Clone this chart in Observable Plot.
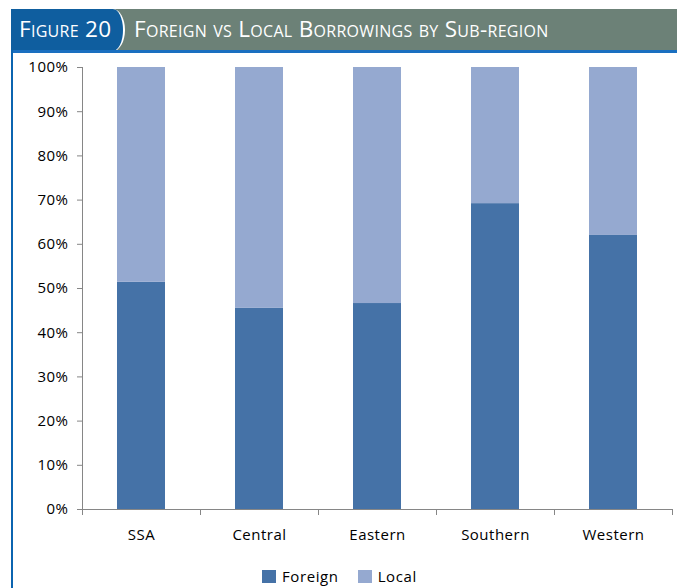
<!DOCTYPE html>
<html>
<head>
<meta charset="utf-8">
<script src="https://cdn.jsdelivr.net/npm/d3@7"></script>
<script src="https://cdn.jsdelivr.net/npm/@observablehq/plot@0.6"></script>
<style>
  html, body { margin: 0; padding: 0; background: #fff; }
  #wrap { position: relative; width: 677px; height: 588px; overflow: hidden; font-family: "Open Sans", sans-serif; }
  #header { position: absolute; left: 11px; top: 9px; width: 666px; height: 42px; background: #6c8177; }
  #hblue { position: absolute; left: 0; top: 0; width: 112px; height: 42px; background: #0f5e9f;
           border-right: 2px solid #fff; border-radius: 0 12px 12px 0 / 0 50% 50% 0; }
  #hline { position: absolute; left: 11px; top: 50px; width: 666px; height: 3px; background: #1a6fc0; }
  #lborder { position: absolute; left: 11px; top: 50px; width: 2px; height: 538px; background: #0b64b0; }
  .htxt { position: absolute; top: 5px; color: #fff; font-variant: small-caps; font-size: 22.5px; letter-spacing: 0.3px; line-height: 30px; white-space: nowrap; }
  #chart { position: absolute; left: 0; top: 0; }
  #legend { position: absolute; left: 262px; top: 566px; display: flex; align-items: center; font-size: 15px; letter-spacing: 0.6px; }
  .sw { width: 14px; height: 13px; display: inline-block; margin-right: 6px; }
  .item { display: flex; align-items: center; margin-right: 19px; }
</style>
</head>
<body>
<div id="wrap">
  <div id="chart"></div>
  <div id="header">
    <div id="hblue"></div>
    <div class="htxt" id="fig" style="left:8px;">Figure 20</div>
    <div class="htxt" id="ttl" style="left:123px;">Foreign vs Local Borrowings by Sub-region</div>
  </div>
  <div id="hline"></div>
  <div id="lborder"></div>
  <div id="legend"></div>
</div>
<script>
const categories = ["SSA", "Central", "Eastern", "Southern", "Western"];
const foreign = [51.4, 45.5, 46.6, 69.2, 62.0];
const local = [48.6, 54.5, 53.4, 30.8, 38.0];
const seriesNames = ["Foreign", "Local"];
const seriesColors = ["#4572a7", "#95a9d0"];
const yTicks = [0, 10, 20, 30, 40, 50, 60, 70, 80, 90, 100];

const rows = [];
categories.forEach((c, i) => {
  rows.push({region: c, type: "Foreign", value: foreign[i]});
  rows.push({region: c, type: "Local", value: local[i]});
});

const axisColor = "#868686";
const chart = Plot.plot({
  width: 677,
  height: 560,
  marginTop: 67,
  marginBottom: 51,
  marginLeft: 82,
  marginRight: 5,
  style: {fontFamily: "'Open Sans', sans-serif", fontSize: "15px", color: "#000", background: "transparent", letterSpacing: "0.5px"},
  x: {domain: categories, padding: 0, axis: null, label: null},
  y: {domain: [0, 100], axis: null, label: null},
  color: {domain: seriesNames, range: seriesColors},
  marks: [
    Plot.barY(rows, {x: "region", y: "value", fill: "type", insetLeft: 35, insetRight: 35}),
    Plot.frame({anchor: "left", stroke: axisColor}),
    Plot.ruleY([0], {stroke: axisColor}),
    Plot.ruleX(categories, {x: d => d, y1: 0, y2: 0, dx: -59, insetBottom: -6, stroke: axisColor}),
    Plot.ruleX([categories[categories.length - 1]], {x: d => d, y1: 0, y2: 0, dx: 59, insetBottom: -6, stroke: axisColor}),
    Plot.axisY({ticks: yTicks, tickSize: 5, tickPadding: 9, tickFormat: d => d + "%", stroke: axisColor, fill: "#000", fontSize: 15, label: null}),
    Plot.axisX({tickSize: 0, tickPadding: 20, fill: "#000", fontSize: 15, label: null})
  ]
});
document.getElementById("chart").appendChild(chart);

const lg = document.getElementById("legend");
seriesNames.forEach((n, i) => {
  const it = document.createElement("div");
  it.className = "item";
  it.innerHTML = `<span class="sw" style="background:${seriesColors[i]}"></span><span>${n}</span>`;
  lg.appendChild(it);
});
</script>
</body>
</html>
